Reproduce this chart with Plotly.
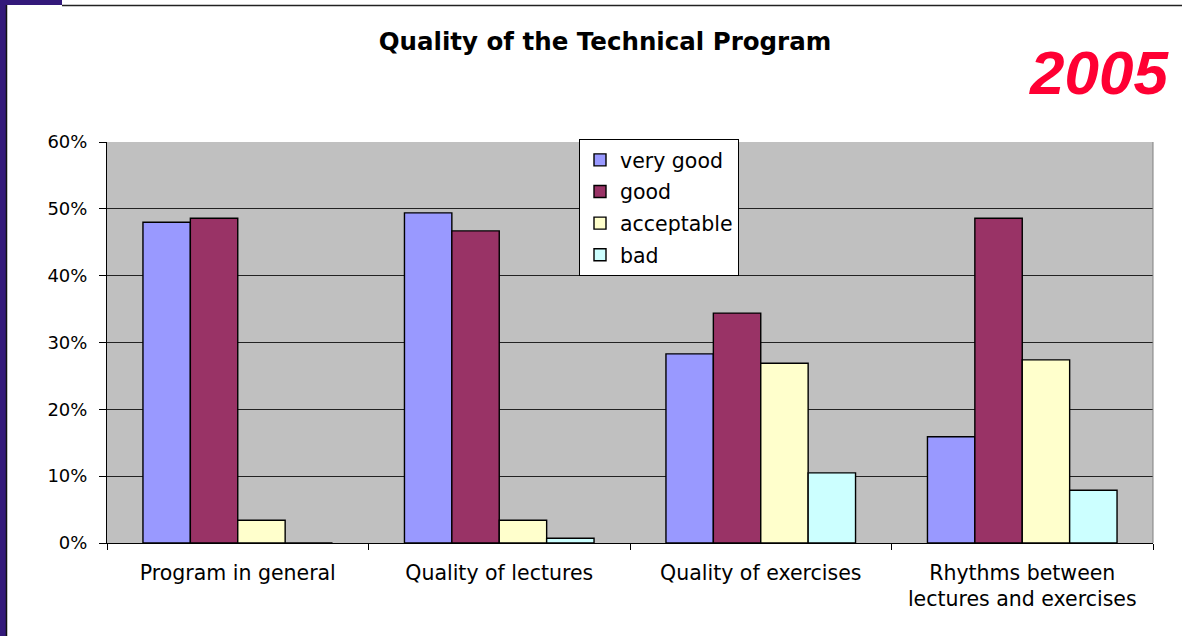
import plotly.graph_objects as go

categories = ["Program in general", "Quality of lectures", "Quality of exercises",
              "Rhythms between<br>lectures and exercises"]
series_names = ["very good", "good", "acceptable", "bad"]
very_good = [0.480, 0.494, 0.283, 0.159]
good = [0.486, 0.467, 0.344, 0.486]
acceptable = [0.034, 0.034, 0.269, 0.274]
bad = [0.0, 0.007, 0.105, 0.079]
series_values = [very_good, good, acceptable, bad]
colors = ["#9999FF", "#993366", "#FFFFCC", "#CCFFFF"]
y_ticks = [0, 0.1, 0.2, 0.3, 0.4, 0.5, 0.6]

W, H = 1182, 636
L, R, T, B = 107, 1153, 142, 543

fig = go.Figure()
for i, (name, vals) in enumerate(zip(series_names, series_values)):
    fig.add_trace(go.Bar(
        x=categories, y=vals, name=name,
        marker=dict(color=colors[i], line=dict(color="black", width=1.4)),
        legendgroup=name,
    ))

font = "DejaVu Sans, Arial, sans-serif"
arial = "Liberation Sans, Arial, sans-serif"
fig.update_layout(
    width=W, height=H,
    margin=dict(l=L, r=W - R, t=T, b=H - B, autoexpand=False),
    paper_bgcolor="white", plot_bgcolor="#C0C0C0",
    barmode="group", bargap=0.275, bargroupgap=0,
    font=dict(family=font, size=19, color="black"),
    title=dict(text="<b>Quality of the Technical Program</b>", x=605 / W, xanchor="center",
               y=1 - 41 / H, yanchor="middle", font=dict(size=24.5, family=font)),
    legend=dict(x=(579 - L) / (R - L), y=(543 - 139) / (B - T), xanchor="left", yanchor="top",
                bgcolor="white", bordercolor="black", borderwidth=1,
                traceorder="grouped", tracegroupgap=2, itemwidth=30,
                font=dict(size=20.5, family=font)),
    showlegend=True,
    xaxis=dict(showline=True, linecolor="black", linewidth=1, ticks="outside",
               ticklen=6, tickcolor="black", tickson="boundaries", showgrid=False,
               tickfont=dict(size=20.5), ticklabelstandoff=11),
    yaxis=dict(range=[0, 0.6], tickvals=y_ticks, tickformat=".0%", showline=True,
               linecolor="black", linewidth=1, ticks="outside", ticklen=7,
               tickcolor="black", showgrid=True, gridcolor="#222222", gridwidth=1,
               zeroline=False, tickfont=dict(size=18), ticklabelstandoff=8),
)

# right-hand plot border (gray)
fig.add_shape(type="line", xref="paper", yref="paper", x0=1, x1=1, y0=0, y1=1,
              line=dict(color="#808080", width=1))

# slide frame decorations
def fx(p):
    return (p - L) / (R - L)

def fy(p):
    return (B - p) / (B - T)

fig.add_shape(type="rect", xref="paper", yref="paper", x0=fx(0), x1=fx(6),
              y0=fy(H), y1=fy(0), line=dict(width=0), fillcolor="#33197A", layer="above")
fig.add_shape(type="rect", xref="paper", yref="paper", x0=fx(0), x1=fx(62),
              y0=fy(5), y1=fy(0), line=dict(width=0), fillcolor="#33197A", layer="above")
fig.add_shape(type="line", xref="paper", yref="paper", x0=fx(62), x1=fx(W),
              y0=fy(5.5), y1=fy(5.5), line=dict(color="#222222", width=1.5), layer="above")
fig.add_shape(type="line", xref="paper", yref="paper", x0=fx(6.5), x1=fx(6.5),
              y0=fy(H), y1=fy(5), line=dict(color="#111111", width=1.5), layer="above")

fig.add_annotation(text="<b><i>2005</i></b>", xref="paper", yref="paper",
                   x=fx(1171), y=fy(72), xanchor="right", yanchor="middle",
                   showarrow=False, font=dict(size=62, color="#FF0033", family=arial))

fig.write_html("out.html", config={"displayModeBar": False},
               post_script="document.body.style.margin='0px';")
